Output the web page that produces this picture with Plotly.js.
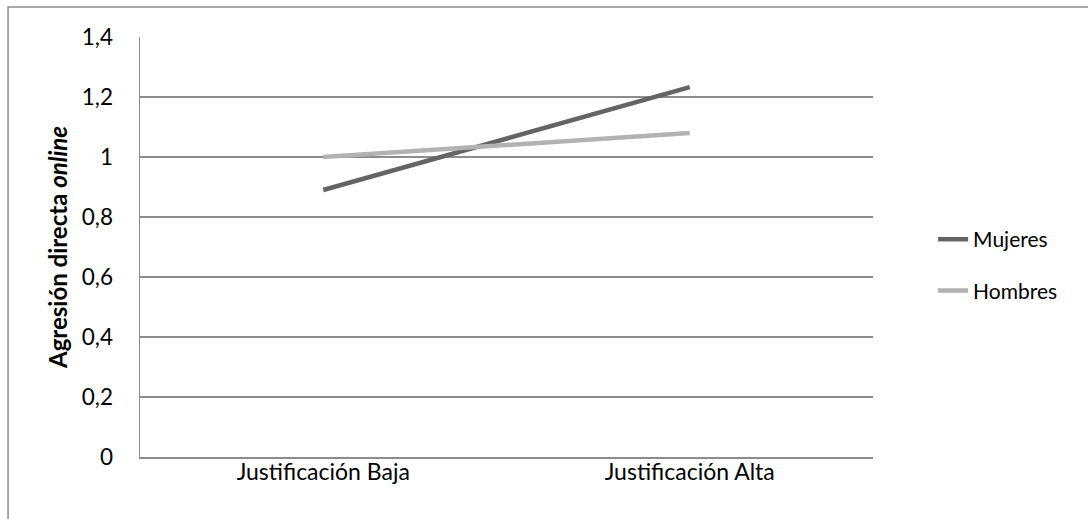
<!DOCTYPE html>
<html>
<head>
<meta charset="utf-8">
<script src="https://cdn.plot.ly/plotly-3.0.1.min.js"></script>
<style>html,body{margin:0;padding:0;background:#fff;}#chart{width:1088px;height:519px;}</style>
</head>
<body>
<div id="chart"></div>
<script>
const categories = ["Justificación Baja", "Justificación Alta"];
const mujeres = [0.89, 1.233];
const hombres = [1.0, 1.08];
const seriesNames = ["Mujeres", "Hombres"];
const yTicks = [0, 0.2, 0.4, 0.6, 0.8, 1, 1.2, 1.4];

const FONT = "Lato, 'Open Sans', sans-serif";
const traces = [
  {x: categories, y: mujeres, name: seriesNames[0], type: "scatter", mode: "lines",
   line: {color: "#646464", width: 4.5}, legendgroup: "a"},
  {x: categories, y: hombres, name: seriesNames[1], type: "scatter", mode: "lines",
   line: {color: "#b2b2b2", width: 4.5}, legendgroup: "b"}
];
const layout = {
  width: 1088, height: 519,
  margin: {l: 140, r: 215, t: 37, b: 62},
  paper_bgcolor: "#fff", plot_bgcolor: "#fff",
  separators: ",.",
  font: {family: FONT, size: 21, color: "#000"},
  showlegend: true,
  legend: {x: 1.082, y: 0.457, xanchor: "left", yanchor: "middle", tracegroupgap: 21,
           traceorder: "grouped", font: {family: FONT, size: 21, color: "#000"}},
  xaxis: {type: "category", range: [-0.5, 1.5], showgrid: false, zeroline: false,
          showline: true, linecolor: "#8c8c8c", linewidth: 1.5, ticks: "",
          ticklabelstandoff: -6, tickfont: {size: 23}},
  yaxis: {range: [0, 1.4], tickvals: yTicks, showgrid: true, gridcolor: "#8c8c8c", gridwidth: 1.3,
          zeroline: false, showline: true, linecolor: "#8c8c8c", linewidth: 1.5, ticks: "",
          ticklabelstandoff: 21, tickfont: {size: 22.5},
          title: {text: "<b>Agresión directa <i>online</i></b>", standoff: 7,
                  font: {family: FONT, size: 24, color: "#000"}}},
  shapes: [
    {type: "rect", xref: "paper", yref: "paper", x0: -0.18, x1: 1.35, y0: -0.2, y1: 1.0714,
     line: {color: "#8c8c8c", width: 1.5}, fillcolor: "rgba(0,0,0,0)", layer: "below"}
  ]
};
Plotly.newPlot("chart", traces, layout, {displayModeBar: false, staticPlot: true});
</script>
</body>
</html>
